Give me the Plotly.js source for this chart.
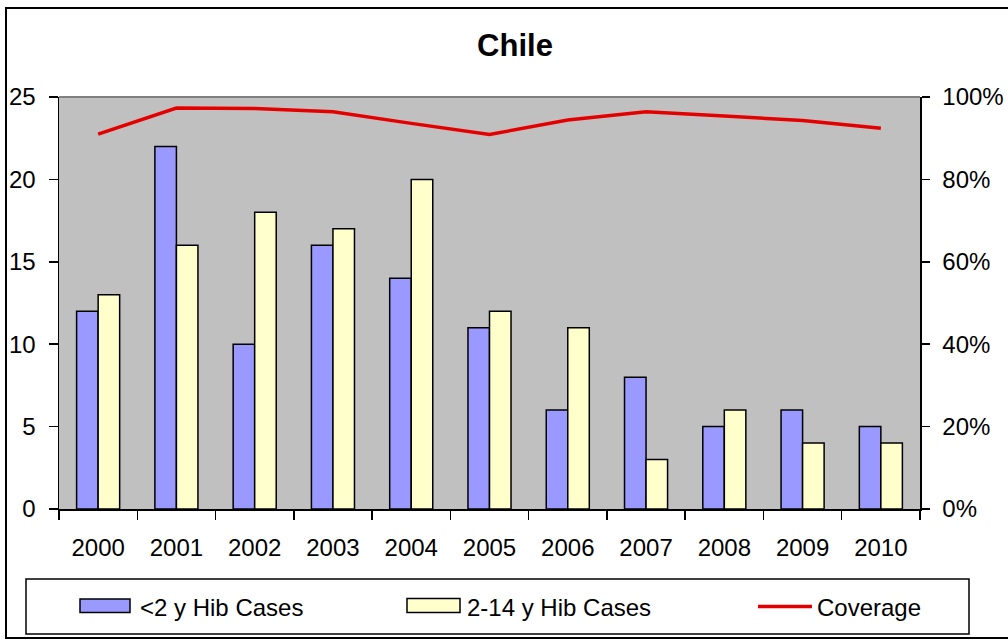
<!DOCTYPE html>
<html>
<head>
<meta charset="utf-8">
<script src="https://cdn.plot.ly/plotly-3.0.1.min.js"></script>
<style>
  html, body { margin: 0; padding: 0; background: #ffffff; }
  #chart { width: 1008px; height: 640px; }
</style>
</head>
<body>
<div id="chart"></div>
<script>
// Hib cases in Chile by age group, with vaccine coverage
const years = ['2000', '2001', '2002', '2003', '2004', '2005', '2006', '2007', '2008', '2009', '2010'];
const casesUnder2 = [12, 22, 10, 16, 14, 11, 6, 8, 5, 6, 5];
const cases2to14 = [13, 16, 18, 17, 20, 12, 11, 3, 6, 4, 4];
const coverage = [91, 97.3, 97.2, 96.4, 93.6, 90.9, 94.4, 96.4, 95.4, 94.3, 92.4];
const seriesNames = ['<2 y Hib Cases', '2-14 y Hib Cases', 'Coverage'];
const chartTitle = 'Chile';

const FONT = 'Liberation Sans, Arial, Helvetica, sans-serif';
const W = 1008, H = 640;
const M = { l: 59, r: 88, t: 97, b: 131 };
const plotW = W - M.l - M.r, plotH = H - M.t - M.b;
// pixel -> paper coordinate helpers
const px = x => (x - M.l) / plotW;
const py = y => (H - M.b - y) / plotH;

const colors = { under2: '#9999FF', older: '#FFFFCC', coverage: '#E50000' };
const esc = s => s.replace(/</g, '&lt;');

const traces = [
  {
    type: 'bar', name: seriesNames[0], x: years, y: casesUnder2,
    marker: { color: colors.under2, line: { color: '#000000', width: 1.5 } },
    hoverinfo: 'skip'
  },
  {
    type: 'bar', name: seriesNames[1], x: years, y: cases2to14,
    marker: { color: colors.older, line: { color: '#000000', width: 1.5 } },
    hoverinfo: 'skip'
  },
  {
    type: 'scatter', mode: 'lines', name: seriesNames[2], x: years, y: coverage,
    yaxis: 'y2', line: { color: colors.coverage, width: 3.5 },
    hoverinfo: 'skip'
  }
];

const boundaries = years.map((_, i) => i - 0.5).concat([years.length - 0.5]);
const tickStyle = { tickcolor: '#000000', tickwidth: 1.5 };
const legendFont = { family: FONT, size: 24, color: '#000000' };

const layout = {
  width: W, height: H,
  margin: { l: M.l, r: M.r, t: M.t, b: M.b, pad: 0 },
  paper_bgcolor: '#ffffff',
  plot_bgcolor: '#C0C0C0',
  barmode: 'group', bargap: 0.45, bargroupgap: 0,
  showlegend: false,
  font: { family: FONT, color: '#000000', size: 24 },
  title: {
    text: '<b>' + chartTitle + '</b>',
    font: { family: FONT, size: 31, color: '#000000' },
    xref: 'container', x: 515 / W, xanchor: 'center',
    yref: 'container', y: 1 - 45 / H, yanchor: 'middle'
  },
  xaxis: Object.assign({
    type: 'category', range: [-0.5, years.length - 0.5],
    tickson: 'boundaries', ticks: 'outside', ticklen: 9,
    showline: true, linecolor: '#000000', linewidth: 1.5,
    showgrid: false, zeroline: false, fixedrange: true,
    tickfont: { family: FONT, size: 24, color: '#000000' },
    ticklabelstandoff: 17
  }, tickStyle),
  xaxis2: Object.assign({
    overlaying: 'x', anchor: 'y', type: 'linear',
    range: [-0.5, years.length - 0.5], tickmode: 'array', tickvals: boundaries,
    ticks: 'inside', ticklen: 6, showticklabels: false,
    showline: false, showgrid: false, zeroline: false, fixedrange: true
  }, tickStyle),
  yaxis: Object.assign({
    range: [0, 25], dtick: 5, tick0: 0,
    ticks: 'outside', ticklen: 9,
    showline: true, linecolor: '#000000', linewidth: 1.5,
    showgrid: false, zeroline: false, fixedrange: true,
    tickfont: { family: FONT, size: 24, color: '#000000' },
    ticklabelstandoff: 8
  }, tickStyle),
  yaxis3: Object.assign({
    overlaying: 'y', side: 'left', range: [0, 25], dtick: 5, tick0: 0,
    ticks: 'inside', ticklen: 7, showticklabels: false,
    showline: false, showgrid: false, zeroline: false, fixedrange: true
  }, tickStyle),
  yaxis2: Object.assign({
    overlaying: 'y', side: 'right', range: [0, 100], dtick: 20, tick0: 0,
    ticksuffix: '%',
    ticks: 'outside', ticklen: 8,
    showline: true, linecolor: '#000000', linewidth: 1.5,
    showgrid: false, zeroline: false, fixedrange: true,
    tickfont: { family: FONT, size: 24, color: '#000000' },
    ticklabelstandoff: 8
  }, tickStyle),
  yaxis4: Object.assign({
    overlaying: 'y', side: 'right', range: [0, 100], dtick: 20, tick0: 0,
    ticks: 'inside', ticklen: 8, showticklabels: false,
    showline: false, showgrid: false, zeroline: false, fixedrange: true
  }, tickStyle),
  shapes: [
    // outer chart frame
    { type: 'rect', xref: 'paper', yref: 'paper',
      x0: px(6), x1: px(1040), y0: py(638), y1: py(8),
      line: { color: '#000000', width: 2 } },
    // top edge of plot area
    { type: 'line', xref: 'paper', yref: 'paper',
      x0: 0, x1: 1, y0: 1, y1: 1,
      line: { color: '#808080', width: 2 } },
    // legend box
    { type: 'rect', xref: 'paper', yref: 'paper',
      x0: px(26), x1: px(969), y0: py(634), y1: py(579),
      line: { color: '#000000', width: 1.5 } },
    // legend swatches
    { type: 'rect', xref: 'paper', yref: 'paper',
      x0: px(80), x1: px(130), y0: py(612.5), y1: py(599),
      fillcolor: colors.under2, line: { color: '#000000', width: 1.5 } },
    { type: 'rect', xref: 'paper', yref: 'paper',
      x0: px(407), x1: px(460), y0: py(612.5), y1: py(598.5),
      fillcolor: colors.older, line: { color: '#000000', width: 1.5 } },
    { type: 'line', xref: 'paper', yref: 'paper',
      x0: px(758), x1: px(812), y0: py(606.5), y1: py(606.5),
      line: { color: colors.coverage, width: 3.5 } }
  ],
  annotations: [
    { xref: 'paper', yref: 'paper', x: px(138), y: py(607), xanchor: 'left', yanchor: 'middle',
      text: esc(seriesNames[0]), showarrow: false, font: legendFont },
    { xref: 'paper', yref: 'paper', x: px(465), y: py(607), xanchor: 'left', yanchor: 'middle',
      text: esc(seriesNames[1]), showarrow: false, font: legendFont },
    { xref: 'paper', yref: 'paper', x: px(815), y: py(607), xanchor: 'left', yanchor: 'middle',
      text: esc(seriesNames[2]), showarrow: false, font: legendFont }
  ]
};

Plotly.newPlot('chart', traces, layout, { displayModeBar: false, staticPlot: true });
</script>
</body>
</html>
